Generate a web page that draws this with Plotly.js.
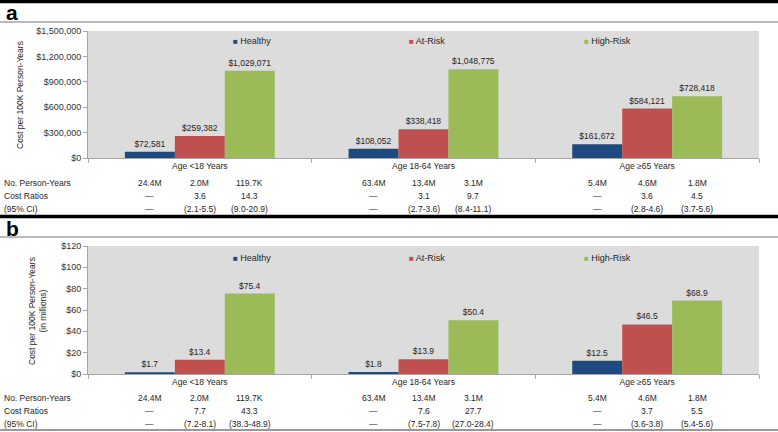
<!DOCTYPE html>
<html>
<head>
<meta charset="utf-8">
<script src="https://cdn.plot.ly/plotly-3.0.1.min.js"></script>
<style>html,body{margin:0;padding:0;background:#fff;}#chart{width:778px;height:432px;}</style>
</head>
<body>
<div id="chart"></div>
<script>
// ---- data ----
const categories = ['Age <18 Years', 'Age 18-64 Years', 'Age \u226565 Years'];
const seriesNames = ['Healthy', 'At-Risk', 'High-Risk'];

const costA_healthy = [72581, 108052, 161672];
const costA_atRisk = [259382, 338418, 584121];
const costA_highRisk = [1029071, 1048775, 728418];

const costB_healthy = [1.7, 1.8, 12.5];
const costB_atRisk = [13.4, 13.9, 46.5];
const costB_highRisk = [75.4, 50.4, 68.9];

const tableRowLabels = ['No. Person-Years', 'Cost Ratios', '(95% CI)'];
const personYears = ['24.4M', '2.0M', '119.7K', '63.4M', '13.4M', '3.1M', '5.4M', '4.6M', '1.8M'];
const ratiosA = ['\u2014', '3.6', '14.3', '\u2014', '3.1', '9.7', '\u2014', '3.6', '4.5'];
const ciA = ['\u2014', '(2.1-5.5)', '(9.0-20.9)', '\u2014', '(2.7-3.6)', '(8.4-11.1)', '\u2014', '(2.8-4.6)', '(3.7-5.6)'];
const ratiosB = ['\u2014', '7.7', '43.3', '\u2014', '7.6', '27.7', '\u2014', '3.7', '5.5'];
const ciB = ['\u2014', '(7.2-8.1)', '(38.3-48.9)', '\u2014', '(7.5-7.8)', '(27.0-28.4)', '\u2014', '(3.6-3.8)', '(5.4-5.6)'];

const yTicksA = [0, 300000, 600000, 900000, 1200000, 1500000];
const yTickLabelsA = ['$0', '$300,000', '$600,000', '$900,000', '$1,200,000', '$1,500,000'];
const yTicksB = [0, 20, 40, 60, 80, 100, 120];
const yTickLabelsB = ['$0', '$20', '$40', '$60', '$80', '$100', '$120'];

// ---- style ----
const colors = ['#1f4a80', '#c0504d', '#9bbb59'];
const FONT = 'Liberation Sans, Arial, sans-serif';
const TXT = '#262626';
const W = 778, H = 432;
const px = v => v / W;
const py = v => 1 - v / H;
const bargap = 0.33;
const barW = (1 - bargap) / 3;

function barTrace(name, vals, color, xa, ya, tmpl) {
  return {
    type: 'bar', name: name, x: categories, y: vals,
    xaxis: xa, yaxis: ya,
    marker: {color: color},
    text: vals, texttemplate: tmpl, textposition: 'outside',
    textfont: {family: FONT, size: 8.5, color: TXT},
    cliponaxis: false, showlegend: false, hoverinfo: 'x+y'
  };
}

const traces = [
  barTrace(seriesNames[0], costA_healthy, colors[0], 'x', 'y', '$%{y:,.0f}'),
  barTrace(seriesNames[1], costA_atRisk, colors[1], 'x', 'y', '$%{y:,.0f}'),
  barTrace(seriesNames[2], costA_highRisk, colors[2], 'x', 'y', '$%{y:,.0f}'),
  barTrace(seriesNames[0], costB_healthy, colors[0], 'x2', 'y2', '$%{y:.1f}'),
  barTrace(seriesNames[1], costB_atRisk, colors[1], 'x2', 'y2', '$%{y:.1f}'),
  barTrace(seriesNames[2], costB_highRisk, colors[2], 'x2', 'y2', '$%{y:.1f}')
];

const ann = [];
// panel letters
ann.push({text: '<b>a</b>', xref: 'paper', yref: 'paper', x: px(4), y: py(13), xanchor: 'left', yanchor: 'middle', showarrow: false, font: {family: FONT, size: 21, color: '#000'}});
ann.push({text: '<b>b</b>', xref: 'paper', yref: 'paper', x: px(4), y: py(228), xanchor: 'left', yanchor: 'middle', showarrow: false, font: {family: FONT, size: 21, color: '#000'}});
// y titles
ann.push({text: 'Cost per 100K Person-Years', xref: 'paper', yref: 'paper', x: px(20), y: py(95), textangle: -90, xanchor: 'center', yanchor: 'middle', showarrow: false, font: {family: FONT, size: 8.5, color: TXT}});
ann.push({text: 'Cost per 100K Person-Years<br>(in millions)', xref: 'paper', yref: 'paper', x: px(37), y: py(311), textangle: -90, xanchor: 'center', yanchor: 'middle', showarrow: false, font: {family: FONT, size: 8.5, color: TXT}});
// legends
const legX = [231, 407, 582];
[41, 258].forEach(ly => {
  seriesNames.forEach((n, i) => {
    ann.push({text: '<span style="color:' + colors[i] + ';font-size:8px">\u25A0</span> ' + n,
      xref: 'paper', yref: 'paper', x: px(legX[i]), y: py(ly), xanchor: 'left', yanchor: 'middle',
      showarrow: false, font: {family: FONT, size: 9, color: TXT}});
  });
});
// tables
function table(xa, rowsY, rows) {
  rowsY.forEach((ry, r) => {
    ann.push({text: tableRowLabels[r], xref: 'paper', yref: 'paper', x: px(2), y: py(ry), xanchor: 'left', yanchor: 'middle', showarrow: false, font: {family: FONT, size: 8.5, color: TXT}});
    rows[r].forEach((t, k) => {
      const c = Math.floor(k / 3), s = k % 3;
      ann.push({text: t, xref: xa, yref: 'paper', x: c + (s - 1) * barW, y: py(ry), xanchor: 'center', yanchor: 'middle', showarrow: false, font: {family: FONT, size: 8.5, color: TXT}});
    });
  });
}
table('x', [183, 196, 209], [personYears, ratiosA, ciA]);
table('x2', [398, 411, 424], [personYears, ratiosB, ciB]);

const shapes = [
  {type: 'line', xref: 'paper', yref: 'paper', x0: 0, x1: 1, y0: py(1.5), y1: py(1.5), line: {color: '#000', width: 3.5}},
  {type: 'line', xref: 'paper', yref: 'paper', x0: 0, x1: 1, y0: py(22), y1: py(22), line: {color: '#777', width: 1}},
  {type: 'line', xref: 'paper', yref: 'paper', x0: 0, x1: 1, y0: py(216.5), y1: py(216.5), line: {color: '#000', width: 3.5}},
  {type: 'line', xref: 'paper', yref: 'paper', x0: 0, x1: 1, y0: py(237), y1: py(237), line: {color: '#777', width: 1}},
  {type: 'line', xref: 'paper', yref: 'paper', x0: 0, x1: 1, y0: py(430), y1: py(430), line: {color: '#999', width: 2}}
];

function xAxis(dom, anchor) {
  return {domain: dom, anchor: anchor, type: 'category', showgrid: false, zeroline: false,
    showline: true, linecolor: '#a6a6a6', linewidth: 1, ticks: 'outside', tickson: 'boundaries',
    ticklen: 4, tickcolor: '#a6a6a6', tickvals: categories, ticktext: categories.map(c => c.replace('<', '&lt;')),
    tickfont: {family: FONT, size: 8.5, color: TXT}, fixedrange: true};
}
function yAxis(dom, anchor, range, tv, tt) {
  return {domain: dom, anchor: anchor, range: range, tickmode: 'array', tickvals: tv, ticktext: tt,
    showgrid: false, zeroline: false, showline: true, linecolor: '#a6a6a6', linewidth: 1,
    ticks: 'outside', ticklen: 4, tickcolor: '#a6a6a6',
    tickfont: {family: FONT, size: 9, color: '#333'}, fixedrange: true};
}

const layout = {
  width: W, height: H, margin: {l: 0, r: 0, t: 0, b: 0},
  paper_bgcolor: '#fff', plot_bgcolor: '#dcdcdc',
  barmode: 'group', bargap: bargap, bargroupgap: 0, showlegend: false,
  xaxis: xAxis([px(88), px(759)], 'y'),
  yaxis: yAxis([py(158), py(31)], 'x', [0, 1500000], yTicksA, yTickLabelsA),
  xaxis2: xAxis([px(88), px(759)], 'y2'),
  yaxis2: yAxis([py(374), py(246)], 'x2', [0, 120], yTicksB, yTickLabelsB),
  annotations: ann, shapes: shapes,
  font: {family: FONT, color: TXT}
};

Plotly.newPlot('chart', traces, layout, {displayModeBar: false, staticPlot: true});
</script>
</body>
</html>
